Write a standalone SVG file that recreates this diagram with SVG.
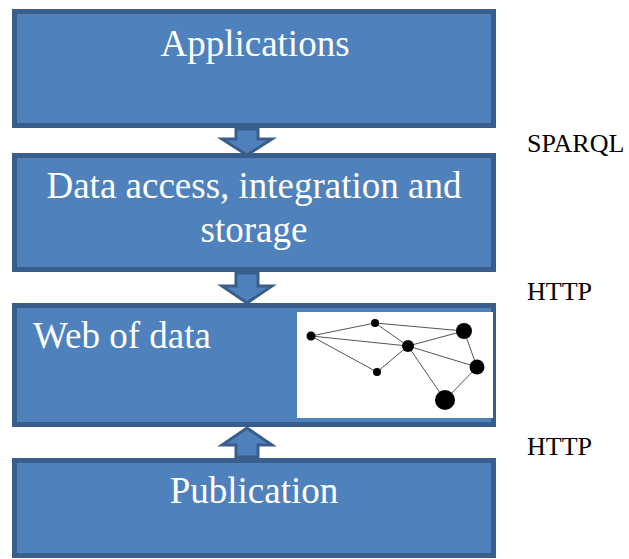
<svg xmlns="http://www.w3.org/2000/svg" width="629" height="559" viewBox="0 0 629 559">
<style>
.box{fill:#4F81BD;stroke:#3A5E8C;stroke-width:5}
.arr{fill:#4F81BD;stroke:#3A5E8C;stroke-width:3;stroke-linejoin:miter}
.t{font-family:'Liberation Serif','DejaVu Serif','Times New Roman',serif;fill:#ffffff;font-size:37px}
.lbl{font-family:'Liberation Serif','DejaVu Serif','Times New Roman',serif;fill:#000000;font-size:26px}
.e{stroke:#555;stroke-width:1}
.n{fill:#000}
</style>
<rect width="629" height="559" fill="#ffffff"/>
<g id="connectors">
<polygon class="arr" points="236,129 258,129 258,139 272,139 247,155 222,139 236,139"/>
<polygon class="arr" points="236,273 258,273 258,286 272,286 247,303 222,286 236,286"/>
<polygon class="arr" points="236,457 258,457 258,445 272,445 247,428 222,445 236,445"/>
</g>
<g id="applications">
<rect class="box" x="14.5" y="11.5" width="479" height="114"/>
<text class="t" x="255" y="56" text-anchor="middle">Applications</text>
</g>
<g id="data-access">
<rect class="box" x="14.5" y="155.5" width="479" height="114"/>
<text class="t" x="254" y="198" text-anchor="middle">Data access, integration and</text>
<text class="t" x="254" y="242" text-anchor="middle">storage</text>
</g>
<g id="web-of-data">
<rect class="box" x="14.5" y="305.5" width="479" height="119"/>
<text class="t" x="33" y="348">Web of data</text>
<rect x="297" y="312" width="196" height="106" fill="#ffffff"/>
<g>
<line class="e" x1="311" y1="336" x2="375" y2="323"/>
<line class="e" x1="311" y1="336" x2="408" y2="346"/>
<line class="e" x1="311" y1="336" x2="377" y2="372"/>
<line class="e" x1="375" y1="323" x2="408" y2="346"/>
<line class="e" x1="375" y1="323" x2="464" y2="331"/>
<line class="e" x1="408" y1="346" x2="464" y2="331"/>
<line class="e" x1="408" y1="346" x2="477" y2="367"/>
<line class="e" x1="408" y1="346" x2="445" y2="400"/>
<line class="e" x1="377" y1="372" x2="408" y2="346"/>
<line class="e" x1="464" y1="331" x2="477" y2="367"/>
<line class="e" x1="477" y1="367" x2="445" y2="400"/>
<circle class="n" cx="311" cy="336" r="4.5"/>
<circle class="n" cx="375" cy="323" r="4"/>
<circle class="n" cx="408" cy="346" r="6"/>
<circle class="n" cx="464" cy="331" r="8"/>
<circle class="n" cx="477" cy="367" r="7.5"/>
<circle class="n" cx="445" cy="400" r="10"/>
<circle class="n" cx="377" cy="372" r="4"/>
</g>
</g>
<g id="publication">
<rect class="box" x="14.5" y="460.5" width="479" height="95"/>
<text class="t" x="254" y="503" text-anchor="middle">Publication</text>
</g>
<g id="labels">
<text class="lbl" x="527" y="152">SPARQL</text>
<text class="lbl" x="527" y="300">HTTP</text>
<text class="lbl" x="527" y="455">HTTP</text>
</g>
</svg>
